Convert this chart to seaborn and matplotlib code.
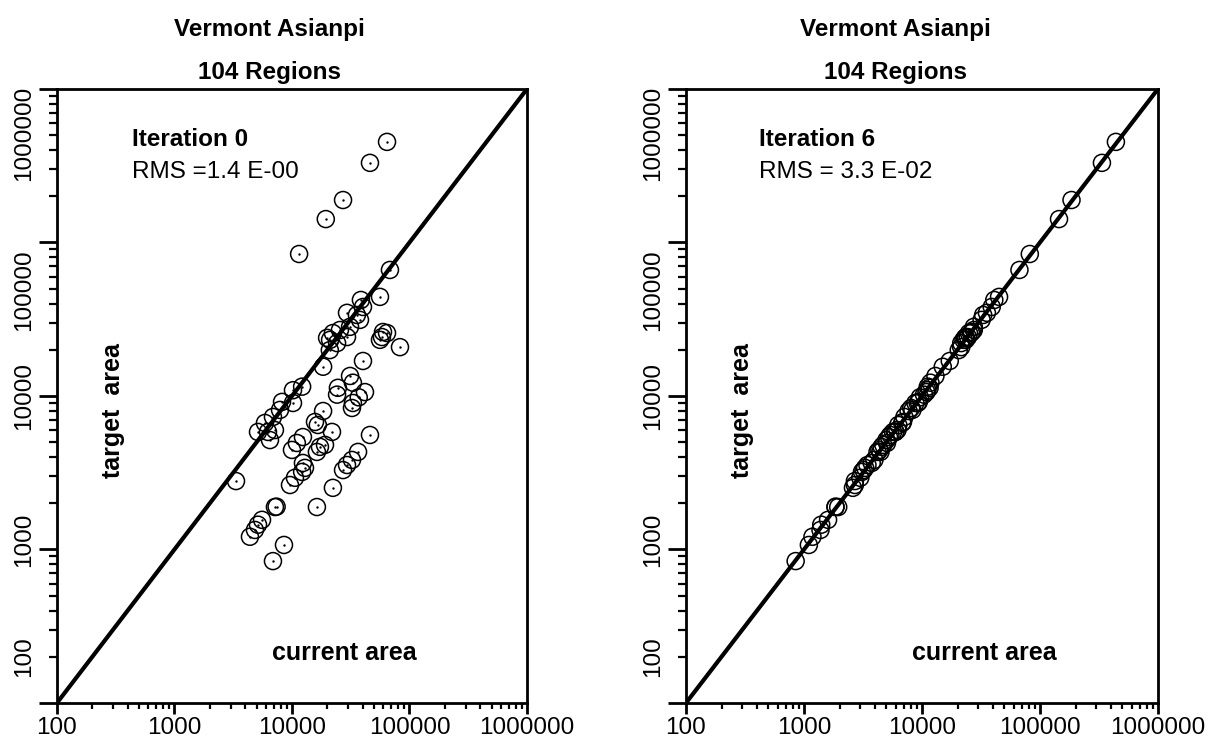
import matplotlib
matplotlib.use("Agg")
import matplotlib.pyplot as plt
import matplotlib.transforms as mtransforms
from matplotlib.ticker import LogLocator, NullFormatter
import seaborn as sns

# target area (same 104 regions in both panels)
target_area = [452000, 330000, 189000, 142000, 84100, 66200, 44200, 42200, 38000, 33700,
               31300, 28200, 26900, 25700, 23200, 22100, 24200, 19900, 15500, 26100,
               24200, 25700, 23200, 20800, 16900, 13500, 11300, 10200, 12200, 10600,
               9000, 8350, 9800, 11500, 10900, 9150, 9000, 8110, 7300, 6670,
               5830, 5830, 6000, 5160, 7980, 6770, 6470, 5830, 5400, 4940,
               4450, 4660, 4320, 4800, 3660, 3200, 2930, 2630, 3400, 5570,
               4320, 3830, 3550, 3290, 2520, 1890, 2790, 1890, 1900, 1560,
               1450, 1340, 1210, 1070, 840, 34800, 23900]

# current area at iteration 0
current_iter0 = [64400, 46100, 27200, 19400, 11500, 68200, 56100, 38600, 40200, 35700,
                 37900, 31200, 25600, 22300, 21100, 24200, 29400, 21000, 18400, 59500,
                 58300, 64400, 56100, 83000, 40200, 31200, 24600, 24200, 33000, 41800,
                 33000, 32400, 37000, 12200, 10200, 8230, 10200, 7910, 6890, 5890,
                 5140, 6250, 7160, 6500, 18400, 15700, 16600, 21900, 12400, 11000,
                 10000, 17300, 16300, 19100, 12400, 12200, 10600, 9620, 12900, 46100,
                 36500, 32400, 29400, 27200, 22300, 16300, 3340, 7160, 7400, 5560,
                 5140, 4840, 4390, 8550, 6890, 29400, 19900]

# current area at iteration 6
current_iter6 = [440000, 335000, 185000, 145000, 82000, 67000, 45000, 41000, 39000, 33000,
                 32000, 27500, 27500, 25000, 23500, 21500, 24500, 20500, 15000, 26500,
                 23500, 26000, 22500, 21500, 17200, 13000, 11600, 10400, 11800, 10900,
                 9200, 8100, 9600, 11200, 11100, 9400, 8800, 8300, 7100, 6800,
                 5700, 5950, 6200, 5000, 7700, 6900, 6300, 5950, 5250, 5050,
                 4350, 4550, 4450, 4700, 3750, 3100, 3000, 2700, 3300, 5400,
                 4200, 3950, 3450, 3200, 2600, 1850, 2700, 1950, 1850, 1600,
                 1400, 1380, 1180, 1100, 850, 35500, 23200]

diagonal = [100, 1000000]
decades = [100, 1000, 10000, 100000, 1000000]
decade_labels = ["100", "1000", "10000", "100000", "1000000"]

sns.set_style("ticks")
plt.rcParams['font.family'] = ['Liberation Sans', 'DejaVu Sans']
plt.rcParams['text.color'] = 'black'
plt.rcParams['xtick.color'] = 'black'
plt.rcParams['ytick.color'] = 'black'
plt.rcParams['axes.labelcolor'] = 'black'

fig = plt.figure(figsize=(12.09, 7.5), dpi=100)
ax_left = fig.add_axes([0.0471, 0.0627, 0.3888, 0.8187])
ax_right = fig.add_axes([0.5674, 0.0627, 0.3904, 0.8187])

# nudges for the y tick labels (pixels, as in the scanned original)
ylabel_shift = [46, 10, 0, -48, -44]


def setup_axes(ax):
    ax.set_xscale('log')
    ax.set_yscale('log')
    ax.set_xlim(100, 1000000)
    ax.set_ylim(100, 1000000)
    ax.set_xticks(decades)
    ax.set_xticklabels(decade_labels, fontsize=17.5)
    ax.set_yticks(decades)
    ax.set_yticklabels(decade_labels, fontsize=17.5, rotation=90, va='center')
    for axis in (ax.xaxis, ax.yaxis):
        axis.set_minor_locator(LogLocator(base=10, subs=range(2, 10)))
        axis.set_minor_formatter(NullFormatter())
    ax.tick_params(axis='x', which='major', length=8, width=2, pad=2)
    ax.tick_params(axis='x', which='minor', length=4, width=1.6)
    ax.tick_params(axis='y', which='major', length=13, width=2, pad=3)
    ax.tick_params(axis='y', which='minor', length=6, width=1.6)
    for side in ['left', 'right', 'top', 'bottom']:
        ax.spines[side].set_linewidth(2)
        ax.spines[side].set_color('black')
    for lab, dy in zip(ax.get_yticklabels(), ylabel_shift):
        lab.set_transform(lab.get_transform() +
                          mtransforms.ScaledTranslation(0, dy / 100, fig.dpi_scale_trans))
    ax.set_xlabel("")
    ax.set_ylabel("")


# left panel: iteration 0
ax = ax_left
ax.plot(diagonal, diagonal, color='black', lw=3, zorder=1)
sns.scatterplot(x=current_iter0, y=target_area, ax=ax, marker='o', s=150,
                facecolor='none', edgecolor='black', linewidth=1.1, zorder=2)
sns.scatterplot(x=current_iter0, y=target_area, ax=ax, marker='o', s=3,
                color='black', edgecolor='black', linewidth=0, zorder=3)
setup_axes(ax)
ax.text(0.16, 0.917, "Iteration 0", transform=ax.transAxes, fontsize=17.5,
        fontweight='bold', va='center', ha='left')
ax.text(0.16, 0.865, "RMS =1.4 E-00", transform=ax.transAxes, fontsize=17.5,
        va='center', ha='left')
ax.text(0.119, 0.477, "target  area", transform=ax.transAxes, fontsize=18,
        fontweight='bold', rotation=90, va='center', ha='center')
ax.text(0.611, 0.081, "current area", transform=ax.transAxes, fontsize=18,
        fontweight='bold', va='center', ha='center')

# right panel: iteration 6
ax = ax_right
ax.plot(diagonal, diagonal, color='black', lw=3, zorder=1)
sns.scatterplot(x=current_iter6, y=target_area, ax=ax, marker='o', s=150,
                facecolor='none', edgecolor='black', linewidth=1.1, zorder=2)
setup_axes(ax)
ax.text(0.155, 0.917, "Iteration 6", transform=ax.transAxes, fontsize=17.5,
        fontweight='bold', va='center', ha='left')
ax.text(0.155, 0.865, "RMS = 3.3 E-02", transform=ax.transAxes, fontsize=17.5,
        va='center', ha='left')
ax.text(0.119, 0.477, "target  area", transform=ax.transAxes, fontsize=18,
        fontweight='bold', rotation=90, va='center', ha='center')
ax.text(0.631, 0.081, "current area", transform=ax.transAxes, fontsize=18,
        fontweight='bold', va='center', ha='center')

# titles
for xc in (0.223, 0.741):
    fig.text(xc, 0.961, "Vermont Asianpi", fontsize=17.5, fontweight='bold',
             ha='center', va='center')
    fig.text(xc, 0.904, "104 Regions", fontsize=17.5, fontweight='bold',
             ha='center', va='center')

plt.savefig('out.png', dpi=100)
plt.close()
